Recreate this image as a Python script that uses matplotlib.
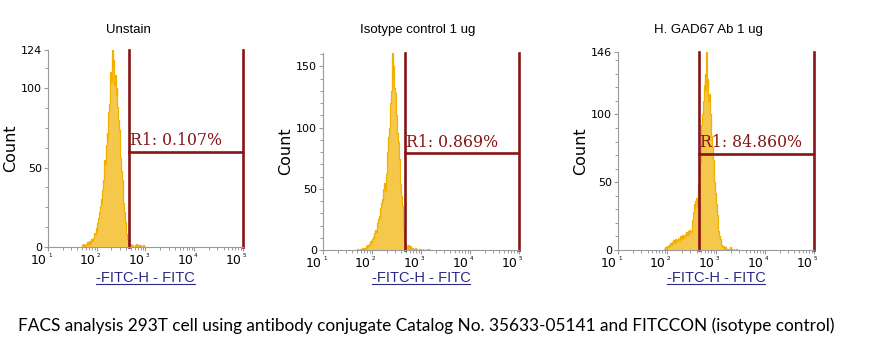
#FACS histogramas - Unstain / Isotype / GAD67

import matplotlib.pyplot as plt
import numpy as np
from matplotlib.ticker import MultipleLocator, NullFormatter
from matplotlib.transforms import offset_copy

titulos = ['Unstain', 'Isotype control 1 ug', 'H. GAD67 Ab 1 ug']
gates = ['R1: 0.107%', 'R1: 0.869%', 'R1: 84.860%']
ymax = [124, 161, 146]
yticks = [[0, 50, 100, 124], [0, 50, 100, 150], [0, 50, 100, 146]]
ymenor = [12.5, 10, 10]
gate_inicio = [2.66, 2.67, 2.65]   # log10 do inicio do gate
gate_altura = [60, 79, 71]
decadas = [1, 2, 3, 4, 5]

# contagens por canal (256 canais em 4 decadas), comecando no canal indicado
canal0 = [44, 44, 60]
unstain = [1,0,2,1,0,1,2,3,1,2,4,2,3,5,4,6,
           7,9,8,12,10,15,18,22,
           26,30,28,36,42,48,55,52,
           64,72,68,85,90,98,110,104,
           124,112,118,102,108,96,100,88,
           80,74,62,56,48,42,34,28,
           22,16,12,8,5,3,2,1,
           2,1,0,1,0,0,1,0,2,0,1,0,0,1,0,0,0,1,0,0]
isotipo = [0,1,0,0,1,0,1,2,1,0,2,1,3,2,4,3,
           5,4,7,6,9,11,10,14,
           16,15,20,22,25,28,26,34,
           38,42,40,50,55,48,62,70,
           80,92,100,108,120,130,161,140,
           150,132,128,118,110,96,88,74,
           62,54,44,36,26,18,10,6,
           4,3,2,4,1,2,3,1,
           2,1,0,1,2,0,1,0,0,1,0,1,0,0,1,0,0,0,1,0,0,1,0,0]
gad67 = [1,0,2,1,3,2,4,3,
         5,4,6,5,7,6,5,8,
         6,7,9,8,7,10,8,9,
         11,9,10,12,10,13,11,14,
         12,15,14,13,18,22,28,34,
         30,36,38,32,40,48,56,64,
         78,92,100,110,122,130,118,146,
         120,126,110,115,100,92,84,76,
         66,58,50,42,34,26,20,14,
         10,8,6,4,3,2,3,1,
         2,1,0,1,1,0,2,0,1,0,0,1,0,0,1,0]
dados = [unstain, isotipo, gad67]

posicoes = [[0.0537, 0.304, 0.218, 0.555],
            [0.3613, 0.2958, 0.2192, 0.555],
            [0.6913, 0.2958, 0.2192, 0.5577]]
titulo_x = [128, 418, 708]

amarelo = '#F2B100'
vermelho = '#861515'
azul = '#2A2A86'
cinza = '#9A9A9A'

fig = plt.figure(figsize=(8.94, 3.55), dpi=100)

rotulos = []
for i in range(3):
    ax = fig.add_axes(posicoes[i])
    cont = np.array(dados[i])
    canais = canal0[i] + np.arange(len(cont)) + 0.5
    x = 10 ** (1 + canais * 4 / 256)
    ax.fill_between(x, 0, cont, step='mid', color=amarelo, alpha=0.7, lw=0)
    ax.plot(x, cont, drawstyle='steps-mid', color=amarelo, lw=0.9)

    ax.set_xscale('log')
    ax.set_xlim(10, 1e5)
    ax.set_ylim(0, ymax[i])
    ax.set_xticks([10 ** d for d in decadas])
    ax.xaxis.set_major_formatter(NullFormatter())
    ax.xaxis.set_minor_formatter(NullFormatter())
    ax.set_yticks(yticks[i])
    ax.yaxis.set_minor_locator(MultipleLocator(ymenor[i]))
    ax.tick_params(labelsize=8, colors='black', length=3, width=0.8, pad=1.5)
    ax.tick_params(which='both', color=cinza)
    ax.tick_params(which='minor', length=2, width=0.7)
    for s in ['top', 'right']:
        ax.spines[s].set_visible(False)
    for s in ['left', 'bottom']:
        ax.spines[s].set_color(cinza)
        ax.spines[s].set_linewidth(0.8)

    # rotulos 10 com expoente pequeno
    tr = ax.get_xaxis_transform()
    for d in decadas:
        ax.text(10 ** d, -0.035, '10', transform=offset_copy(tr, fig=fig, x=-1, units='dots'),
                ha='right', va='top', fontsize=9, family='DejaVu Sans')
        ax.text(10 ** d, -0.03, str(d), transform=tr,
                ha='left', va='top', fontsize=4, family='DejaVu Sans')

    # gate
    g0 = 10 ** gate_inicio[i]
    ax.plot([g0, g0], [0, ymax[i]], color=vermelho, lw=1.9, clip_on=False)
    ax.plot([1e5, 1e5], [0, ymax[i]], color=vermelho, lw=1.9, clip_on=False)
    ax.plot([g0, 1e5], [gate_altura[i], gate_altura[i]], color=vermelho, lw=1.9)
    ax.text(g0 * 1.06, gate_altura[i] + ymax[i] * 0.012, gates[i], color=vermelho,
            fontsize=11.3, family='DejaVu Serif', va='bottom', ha='left')

    ax.set_ylabel('Count', fontsize=11.5, labelpad=2)
    fig.text(titulo_x[i] / 894, 1 - 30 / 355, titulos[i], ha='center', va='center',
             fontsize=9.5, family='Liberation Sans')
    xc = posicoes[i][0] + posicoes[i][2] / 2
    t = fig.text(xc, 1 - 278 / 355, '-FITC-H - FITC', ha='center', va='center',
                 fontsize=10.5, family='Liberation Sans', color=azul)
    rotulos.append(t)

fig.text(18 / 894, 1 - 326 / 355,
         'FACS analysis 293T cell using antibody conjugate Catalog No. 35633-05141 and FITCCON (isotype control)',
         ha='left', va='center', fontsize=12.4, family='Lato')

# sublinhado dos rotulos do eixo x
fig.canvas.draw()
r = fig.canvas.get_renderer()
for t in rotulos:
    bb = t.get_window_extent(r).transformed(fig.transFigure.inverted())
    fig.add_artist(plt.Line2D([bb.x0, bb.x1], [bb.y0 + 0.004, bb.y0 + 0.004], color=azul, lw=0.8,
                              transform=fig.transFigure))

plt.savefig('out.png', dpi=100)
